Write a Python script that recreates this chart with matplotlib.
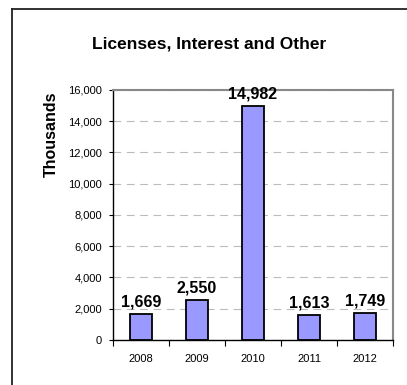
import matplotlib
matplotlib.use('Agg')
import matplotlib.pyplot as plt
from matplotlib.lines import Line2D

plt.rcParams['font.family'] = ['Liberation Sans', 'DejaVu Sans']

# revenue by year, in thousands
years = ['2008', '2009', '2010', '2011', '2012']
values = [1669, 2550, 14982, 1613, 1749]
y_ticks = [0, 2000, 4000, 6000, 8000, 10000, 12000, 14000, 16000]

fig = plt.figure(figsize=(4.07, 3.85), dpi=100)
ax = fig.add_axes([0.2776, 0.1169, 0.688, 0.6494])

x = range(len(years))
ax.bar(x, values, width=0.4, color='#9999FF', edgecolor='black', linewidth=1.3, zorder=3)

for i, v in zip(x, values):
    ax.annotate(f'{v:,}', (i, v), xytext=(0, 3), textcoords='offset points',
                ha='center', va='bottom', fontsize=11.5, fontweight='bold')

ax.set_xlim(-0.5, len(years) - 0.5)
ax.set_ylim(0, 16000)
ax.set_yticks(y_ticks)
ax.set_yticklabels([f'{t:,}' for t in y_ticks], fontsize=8)
ax.yaxis.grid(True, linestyle=(0, (7, 5)), color='#BBBBBB', linewidth=0.8, zorder=0)

# years sit between the tick marks, ticks mark category edges
ax.set_xticks([i - 0.5 for i in range(len(years) + 1)])
ax.set_xticklabels([])
ax.set_xticks(list(x), minor=True)
ax.set_xticklabels(years, minor=True, fontsize=8)
ax.tick_params(axis='x', which='major', direction='out', length=4, width=0.8)
ax.tick_params(axis='x', which='minor', length=0, pad=10)
ax.tick_params(axis='y', direction='out', length=3, width=0.8, pad=5)

for side in ['top', 'right']:
    ax.spines[side].set_color('#888888')
    ax.spines[side].set_linewidth(1.5)
for side in ['left', 'bottom']:
    ax.spines[side].set_color('black')
    ax.spines[side].set_linewidth(1.0)

ax.set_ylabel('Thousands', fontsize=11.5, fontweight='bold')
ax.yaxis.set_label_coords(-0.193, 0.824)
fig.text(0.513, 0.886, 'Licenses, Interest and Other', ha='center', va='center',
         fontsize=12.5, fontweight='bold')

# outer chart frame (top and left edges)
fig.add_artist(Line2D([0.0307, 1.0], [0.9766, 0.9766], color='#222222', linewidth=1.3))
fig.add_artist(Line2D([0.0307, 0.0307], [0.0, 0.9766], color='#222222', linewidth=1.3))

fig.savefig('out.png', dpi=100)
